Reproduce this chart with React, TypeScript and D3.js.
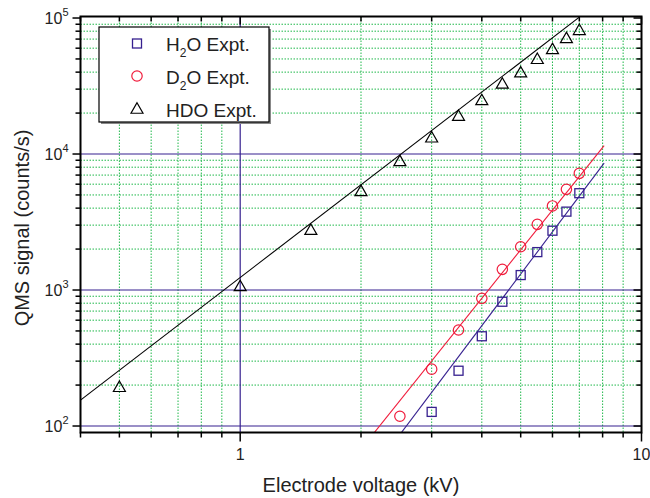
import React from "react";
import * as d3 from "d3";

const voltH2O = [3, 3.5, 4, 4.5, 5, 5.5, 6, 6.5, 7];
const signalH2O = [127, 255, 457, 820, 1288, 1900, 2730, 3770, 5150];
const voltD2O = [2.5, 3, 3.5, 4, 4.5, 5, 5.5, 6, 6.5, 7];
const signalD2O = [118, 262, 508, 869, 1419, 2080, 3040, 4150, 5500, 7210];
const voltHDO = [0.5, 1, 1.5, 2, 2.5, 3, 3.5, 4, 4.5, 5, 5.5, 6, 6.5, 7];
const signalHDO = [196, 1080, 2800, 5400, 8980, 13400, 19300, 25200, 33300, 40300, 50600, 59800, 72100, 82600];

// power-law fits: signal = prefactor * voltage^exponent
const fitNames = ["H2O", "D2O", "HDO"];
const fitPrefactor = [2.38, 5.25, 1236];
const fitExponent = [3.921, 3.685, 2.265];
const fitXStart = [2.0, 2.0, 0.4];
const fitXEnd = [8.07, 8.07, 7.0];

const xMajorTicks = [1, 10];
const xMinorTicks = [0.4, 0.5, 0.6, 0.7, 0.8, 0.9, 2, 3, 4, 5, 6, 7, 8, 9];
const yMajorTicks = [100, 1000, 10000, 100000];
const yMinorTicks = [2, 3, 4, 5, 6, 7, 8, 9].flatMap((m) => [m * 100, m * 1000, m * 10000]);

const legendLabels = [["H", "2", "O Expt."], ["D", "2", "O Expt."], ["HDO Expt.", "", ""]];

const W = 650;
const H = 498;
const L = 80.5, R = 641.5, T = 16.5, B = 432.5;

const BLUE = "#36208f";
const RED = "#f01c3c";
const GREEN = "#1fb84a";
const FONT = "'Liberation Sans', Arial, Helvetica, sans-serif";

const x = d3.scaleLog().domain([0.4, 10]).range([L, R]);
const y = d3.scaleLog().domain([89.6, 102600]).range([B, T]);

function triPath(cx: number, cy: number, w = 12, h = 10.5) {
  return `M${cx},${cy - h / 2}L${cx + w / 2},${cy + h / 2}L${cx - w / 2},${cy + h / 2}Z`;
}

function Square({ cx, cy }: { cx: number; cy: number }) {
  return <rect x={cx - 4.5} y={cy - 4.5} width={9} height={9} fill="none" stroke={BLUE} strokeWidth={1.3} />;
}
function Circle({ cx, cy }: { cx: number; cy: number }) {
  return <circle cx={cx} cy={cy} r={5.2} fill="none" stroke={RED} strokeWidth={1.2} />;
}
function Tri({ cx, cy }: { cx: number; cy: number }) {
  return <path d={triPath(cx, cy)} fill="none" stroke="#000" strokeWidth={1.2} />;
}

export default function App() {
  const line = d3.line<[number, number]>().x((d) => x(d[0])).y((d) => y(d[1]));
  const fitColors = [BLUE, RED, "#000"];
  const fits = fitNames.map((n, i) => {
    const pts: [number, number][] = [fitXStart[i], fitXEnd[i]].map((v) => [v, fitPrefactor[i] * Math.pow(v, fitExponent[i])]);
    return <path key={n} d={line(pts) || ""} fill="none" stroke={fitColors[i]} strokeWidth={1.1} clipPath="url(#plotclip)" />;
  });

  return (
    <svg width={W} height={H} style={{ position: "absolute", left: 0, top: 0, background: "#fff" }} fontFamily={FONT}>
      <defs>
        <clipPath id="plotclip">
          <rect x={L} y={T} width={R - L} height={B - T} />
        </clipPath>
      </defs>
      <rect x={0} y={0} width={W} height={H} fill="#fff" />
      {/* minor grid */}
      {xMinorTicks.filter((v) => v > 0.4).map((v) => (
        <line key={"gx" + v} x1={x(v)} x2={x(v)} y1={T} y2={B} stroke={GREEN} strokeWidth={1} strokeDasharray="1.5,1.5" />
      ))}
      {yMinorTicks.map((v) => (
        <line key={"gy" + v} x1={L} x2={R} y1={y(v)} y2={y(v)} stroke={GREEN} strokeWidth={1} strokeDasharray="1.5,1.5" />
      ))}
      {/* major grid */}
      {xMajorTicks.filter((v) => v < 10).map((v) => (
        <line key={"Gx" + v} x1={x(v)} x2={x(v)} y1={T} y2={B} stroke={BLUE} strokeWidth={1.2} />
      ))}
      {yMajorTicks.filter((v) => v < 100000).map((v) => (
        <line key={"Gy" + v} x1={L} x2={R} y1={y(v)} y2={y(v)} stroke={BLUE} strokeWidth={1.2} />
      ))}
      {/* fits */}
      {fits}
      {/* markers */}
      {voltH2O.map((v, i) => <Square key={"s" + i} cx={x(v)} cy={y(signalH2O[i])} />)}
      {voltD2O.map((v, i) => <Circle key={"c" + i} cx={x(v)} cy={y(signalD2O[i])} />)}
      {voltHDO.map((v, i) => <Tri key={"t" + i} cx={x(v)} cy={y(signalHDO[i])} />)}

      {/* frame */}
      <rect x={L} y={T} width={R - L} height={B - T} fill="none" stroke="#000" strokeWidth={2} />
      {/* bottom ticks (out) */}
      {xMinorTicks.map((v) => <line key={"bt" + v} x1={x(v)} x2={x(v)} y1={B} y2={B + 5} stroke="#000" strokeWidth={1.5} />)}
      {xMajorTicks.map((v) => <line key={"bT" + v} x1={x(v)} x2={x(v)} y1={B} y2={B + 9} stroke="#000" strokeWidth={1.5} />)}
      {/* top ticks (in) */}
      {xMinorTicks.map((v) => <line key={"tt" + v} x1={x(v)} x2={x(v)} y1={T} y2={T + 5} stroke="#000" strokeWidth={1.5} />)}
      {xMajorTicks.map((v) => <line key={"tT" + v} x1={x(v)} x2={x(v)} y1={T} y2={T + 8} stroke="#000" strokeWidth={1.5} />)}
      {/* left ticks (out) */}
      {yMinorTicks.map((v) => <line key={"lt" + v} x1={L - 5} x2={L} y1={y(v)} y2={y(v)} stroke="#000" strokeWidth={1.5} />)}
      {yMajorTicks.map((v) => <line key={"lT" + v} x1={L - 8} x2={L} y1={y(v)} y2={y(v)} stroke="#000" strokeWidth={1.5} />)}
      {/* right ticks (in) */}
      {yMinorTicks.map((v) => <line key={"rt" + v} x1={R - 5} x2={R} y1={y(v)} y2={y(v)} stroke="#000" strokeWidth={1.5} />)}
      {yMajorTicks.map((v) => <line key={"rT" + v} x1={R - 8} x2={R} y1={y(v)} y2={y(v)} stroke="#000" strokeWidth={1.5} />)}

      {/* tick labels */}
      {xMajorTicks.map((v) => (
        <text key={"xl" + v} x={x(v)} y={B + 27} textAnchor="middle" fontSize={16} fill="#222">{String(v)}</text>
      ))}
      {yMajorTicks.map((v) => (
        <text key={"yl" + v} x={L - 12} y={y(v) + 6} textAnchor="end" fontSize={16} fill="#222">
          10<tspan dy={-8} fontSize={11}>{Math.round(Math.log10(v))}</tspan>
        </text>
      ))}

      {/* axis titles */}
      <text x={361} y={492} textAnchor="middle" fontSize={20} fill="#222">Electrode voltage (kV)</text>
      <text transform={`translate(29,228) rotate(-90)`} textAnchor="middle" fontSize={20} fill="#222">QMS signal (counts/s)</text>

      {/* legend */}
      <rect x={101} y={29} width={170} height={95} fill="#888" />
      <rect x={99} y={27} width={170} height={95} fill="#fff" stroke="#000" strokeWidth={1.2} />
      <Square cx={137} cy={43.5} />
      <Circle cx={137} cy={76} />
      <Tri cx={137} cy={108} />
      {legendLabels.map((lab, i) => (
        <text key={"lg" + i} x={166} y={51 + i * 33} fontSize={19} fill="#222">
          {lab[0]}
          {lab[1] ? <tspan dy={6} fontSize={12}>{lab[1]}</tspan> : null}
          {lab[1] ? <tspan dy={-6}>{lab[2]}</tspan> : null}
        </text>
      ))}
    </svg>
  );
}
